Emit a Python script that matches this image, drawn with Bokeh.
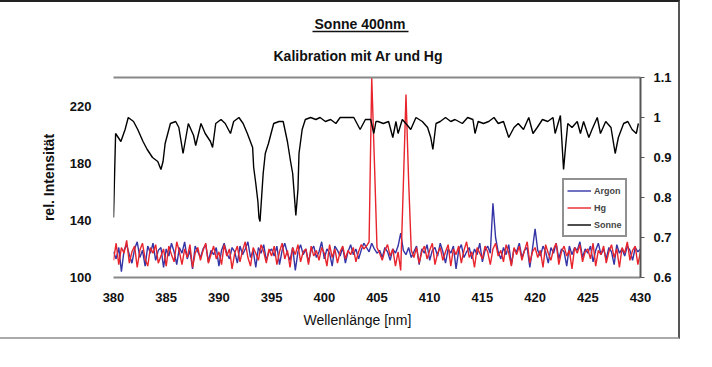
from bokeh.plotting import figure
from bokeh.models import (Range1d, LinearAxis, FixedTicker, Title,
                          Legend, LegendItem, CustomJSTickFormatter)
from bokeh.embed import file_html
from bokeh.resources import INLINE

# ---------------- data ----------------
x_ticks = [380, 385, 390, 395, 400, 405, 410, 415, 420, 425, 430]
left_ticks = [100, 140, 180, 220]
right_ticks = [0.6, 0.7, 0.8, 0.9, 1.0, 1.1]

# spectrometer grid for Argon and Hg (0.25 nm steps, 380..430 nm)
grid_start = 380.0
grid_step = 0.25

hg_values = [
    112, 124, 109, 121, 117, 126, 110, 118, 122, 107, 119, 124, 113, 108, 121, 117, 123, 110, 115, 120,
    108, 122, 116, 111, 125, 118, 109, 120, 114, 123, 107, 117, 121, 112, 119, 124, 110, 116, 122, 113,
    118, 109, 123, 115, 120, 106, 117, 122, 111, 119, 125, 114, 108, 121, 117, 112, 123, 118, 110, 120,
    115, 122, 109, 118, 124, 113, 119, 107, 121, 116, 123, 111, 118, 120, 109, 122, 115, 119, 112, 121,
    117, 108, 123, 114, 120, 110, 118, 122, 113, 119, 116, 121, 111, 118, 123, 120, 122, 125, 240, 182,
    121, 117, 112, 119, 123, 115, 120, 108, 118, 105, 165, 228, 168, 119, 114, 121, 110, 118, 122, 113,
    119, 124, 109, 117, 121, 112, 118, 123, 108, 120, 116, 122, 110, 119, 125, 114, 118, 107, 121, 117,
    113, 122, 118, 109, 120, 124, 115, 119, 111, 123, 117, 108, 121, 116, 122, 112, 119, 125, 110, 118,
    121, 114, 119, 107, 123, 117, 112, 120, 124, 109, 118, 122, 115, 119, 106, 121, 117, 123, 111, 118,
    120, 113, 124, 108, 119, 116, 122, 110, 118, 123, 114, 120, 107, 121, 117, 125, 112, 119, 122, 109,
    118,
]

ar_values = [
    118, 113, 121, 104, 119, 123, 116, 110, 120, 125, 114, 119, 108, 122, 117, 124, 112, 119, 121, 107,
    120, 115, 124, 118, 109, 121, 117, 125, 113, 119, 106, 122, 118, 114, 120, 123, 111, 119, 116, 121,
    108, 119, 124, 117, 113, 121, 118, 110, 122, 116, 120, 125, 114, 119, 107, 121, 117, 123, 112, 118,
    120, 115, 122, 109, 119, 124, 117, 112, 121, 105, 118, 123, 116, 120, 111, 119, 122, 114, 118, 125,
    113, 120, 117, 108, 122, 119, 115, 121, 110, 118, 123, 116, 120, 113, 119, 124, 121, 118, 124, 120,
    117, 119, 114, 121, 118, 112, 120, 117, 122, 131, 119, 116, 121, 114, 118, 122, 109, 120, 117, 123,
    112, 119, 121, 115, 124, 118, 110, 120, 117, 122, 106, 119, 123, 114, 118, 121, 113, 120, 116, 124,
    111, 119, 122, 117, 152, 128, 118, 113, 121, 116, 123, 109, 120, 118, 124, 114, 119, 121, 107, 120,
    134, 119, 115, 122, 118, 110, 121, 117, 124, 113, 120, 118, 108, 122, 116, 121, 119, 125, 114, 120,
    117, 122, 111, 119, 124, 116, 120, 113, 121, 118, 109, 123, 117, 120, 115, 122, 119, 112, 121, 118,
    120,
]

# solar spectrum (relative, right axis)
sonne_nm = [
    380.0, 380.2, 380.7, 381.1, 381.4, 381.9, 382.3, 382.8, 383.2, 383.7, 384.2, 384.5, 384.7, 384.9,
    385.4, 385.9, 386.2, 386.6, 387.1, 387.6, 387.8, 388.3, 388.7, 389.2, 389.4, 389.7, 390.2, 390.6,
    391.1, 391.4, 391.9, 392.3, 392.7, 393.2, 393.3, 393.5, 393.7, 393.8, 393.9, 394.1, 394.2, 394.4,
    394.7, 394.9, 395.2, 395.7, 396.1, 396.5, 396.8, 397.0, 397.1, 397.3, 397.5, 397.6, 397.9, 398.2,
    398.7, 399.2, 399.6, 400.1, 400.6, 401.1, 401.5, 402.2, 402.8, 403.4, 403.9, 404.4, 404.7, 404.9,
    405.1, 405.6, 406.1, 406.5, 406.8, 407.0, 407.4, 407.9, 408.2, 408.7, 409.3, 409.8, 410.1, 410.3,
    410.6, 411.0, 411.5, 412.0, 412.4, 413.1, 413.6, 414.1, 414.3, 414.6, 415.1, 415.6, 416.1, 416.5,
    417.0, 417.5, 418.0, 418.4, 418.9, 419.4, 419.8, 420.2, 420.7, 421.2, 421.7, 421.9, 422.4, 422.7,
    422.9, 423.1, 423.5, 424.0, 424.3, 424.6, 425.1, 425.4, 425.9, 426.2, 426.7, 427.2, 427.6, 427.9,
    428.4, 428.8, 429.2, 429.6, 429.8,
]
sonne_rel = [
    0.75, 0.96, 0.94, 0.97, 1.00, 0.99, 0.97, 0.94, 0.92, 0.90, 0.89, 0.87, 0.89, 0.935,
    0.985, 0.99, 0.975, 0.91, 0.985, 0.955, 0.93, 0.985, 0.96, 0.94, 0.925, 0.985, 0.995, 0.985,
    0.96, 0.99, 1.00, 0.985, 0.96, 0.925, 0.875, 0.835, 0.79, 0.75, 0.74, 0.82, 0.86, 0.91,
    0.935, 0.955, 0.985, 0.99, 0.99, 0.94, 0.89, 0.86, 0.825, 0.755, 0.82, 0.91, 0.97, 0.995,
    1.00, 0.995, 1.00, 0.99, 0.995, 0.985, 1.00, 1.00, 1.00, 0.97, 0.995, 0.995, 0.96, 0.99,
    0.99, 0.985, 0.99, 0.95, 0.99, 0.96, 0.995, 0.98, 0.97, 1.00, 0.99, 0.975, 0.95, 0.92,
    0.985, 0.99, 1.00, 0.99, 0.995, 0.985, 1.00, 0.995, 0.96, 0.99, 0.985, 0.99, 1.00, 0.985,
    0.99, 0.95, 0.975, 0.985, 0.97, 1.00, 0.96, 0.975, 0.995, 0.99, 1.00, 0.96, 1.005, 0.87,
    0.93, 0.985, 0.975, 0.99, 0.96, 0.99, 0.95, 0.97, 1.00, 0.96, 0.99, 0.975, 0.91, 0.95,
    0.985, 0.99, 0.97, 0.96, 0.985,
]

grid_nm = [grid_start + grid_step * i for i in range(len(hg_values))]

# ---------------- figure ----------------
FONT = "Liberation Sans"

p = figure(width=680, height=339, output_backend="svg", toolbar_location=None,
           x_range=Range1d(380, 430), y_range=Range1d(100, 240),
           min_border_left=113, min_border_right=40, min_border_top=75, min_border_bottom=64)
p.extra_y_ranges = {"rel": Range1d(0.6, 1.1)}
p.grid.visible = False
p.outline_line_color = None
p.background_fill_color = "white"
p.styles = {"border-top": "2px solid #222", "border-right": "2px solid #555",
            "border-bottom": "2px solid #aaa"}

ar_line = p.line(grid_nm, ar_values, color="#3434a6", line_width=1.4)
hg_line = p.line(grid_nm, hg_values, color="#e8242c", line_width=1.4)
so_line = p.line(sonne_nm, sonne_rel, color="black", line_width=1.4, y_range_name="rel")

# axes
xa = p.xaxis[0]
xa.ticker = FixedTicker(ticks=x_ticks)
xa.axis_line_color = "#888888"
xa.axis_line_width = 2
xa.major_tick_line_color = None
xa.minor_tick_line_color = None
xa.major_label_standoff = 9

ya = p.yaxis[0]
ya.ticker = FixedTicker(ticks=left_ticks)
ya.axis_label = "rel. Intensität"
ya.axis_line_color = None
ya.major_tick_line_color = None
ya.minor_tick_line_color = None
ya.major_label_standoff = 16
ya.axis_label_standoff = 10

ra = LinearAxis(y_range_name="rel", ticker=FixedTicker(ticks=right_ticks))
ra.formatter = CustomJSTickFormatter(code="return (Math.round(tick*10)/10).toString();")
ra.axis_line_color = "#555555"
ra.axis_line_width = 2
ra.major_tick_line_color = "#555555"
ra.major_tick_out = 4
ra.major_tick_in = 0
ra.minor_tick_line_color = None
ra.major_label_standoff = 9
p.add_layout(ra, "right")

ta = LinearAxis(major_label_text_font_size="0px", major_tick_line_color=None,
                minor_tick_line_color=None, axis_line_color="#888888", axis_line_width=2,
                major_tick_out=0, major_tick_in=0, major_label_standoff=0)
ta.ticker = FixedTicker(ticks=[])
p.add_layout(ta, "above")

for ax in (xa, ya, ra):
    ax.major_label_text_font = FONT
    ax.major_label_text_font_style = "bold"
    ax.major_label_text_font_size = "13px"
    ax.major_label_text_color = "#111111"
    ax.axis_label_text_font = FONT
    ax.axis_label_text_font_size = "14px"
    ax.axis_label_text_color = "#111111"
ya.axis_label_text_font_style = "bold"

# x-axis label as a title below (placed slightly left of centre, as in the original)
xl = Title(text="Wellenlänge [nm]", align="left", offset=190, text_font=FONT,
           text_font_size="14px", text_font_style="normal", text_color="#111111",
           standoff=11)
p.add_layout(xl, "below")

# titles
t2 = Title(text="Kalibration mit Ar und Hg", align="left", offset=160, text_font=FONT,
           text_font_size="14px", text_font_style="bold", text_color="#111111",
           standoff=28)
p.add_layout(t2, "above")

# underline of the main title
ul = LinearAxis(major_label_text_font_size="0px", major_tick_line_color=None,
                minor_tick_line_color=None, axis_line_color="#111111", axis_line_width=1.5,
                major_tick_out=0, major_tick_in=0, major_label_standoff=0,
                bounds=(398.9, 408.0))
ul.ticker = FixedTicker(ticks=[])
p.add_layout(ul, "above")

t1 = Title(text="Sonne 400nm", align="left", offset=201, text_font=FONT,
           text_font_size="14px", text_font_style="bold", text_color="#111111",
           standoff=0)
p.add_layout(t1, "above")

legend = Legend(items=[LegendItem(label="Argon", renderers=[ar_line]),
                       LegendItem(label="Hg", renderers=[hg_line]),
                       LegendItem(label="Sonne", renderers=[so_line])],
                location=(449, 40))
legend.label_text_font = FONT
legend.label_text_font_size = "9px"
legend.label_text_font_style = "bold"
legend.glyph_width = 24
legend.glyph_height = 15
legend.label_height = 15
legend.label_standoff = 3
legend.spacing = 2
legend.padding = 3
legend.margin = 0
legend.border_line_color = "#222222"
legend.border_line_width = 2
legend.background_fill_alpha = 1
p.add_layout(legend)

open("out.html", "w").write(file_html(p, INLINE))
